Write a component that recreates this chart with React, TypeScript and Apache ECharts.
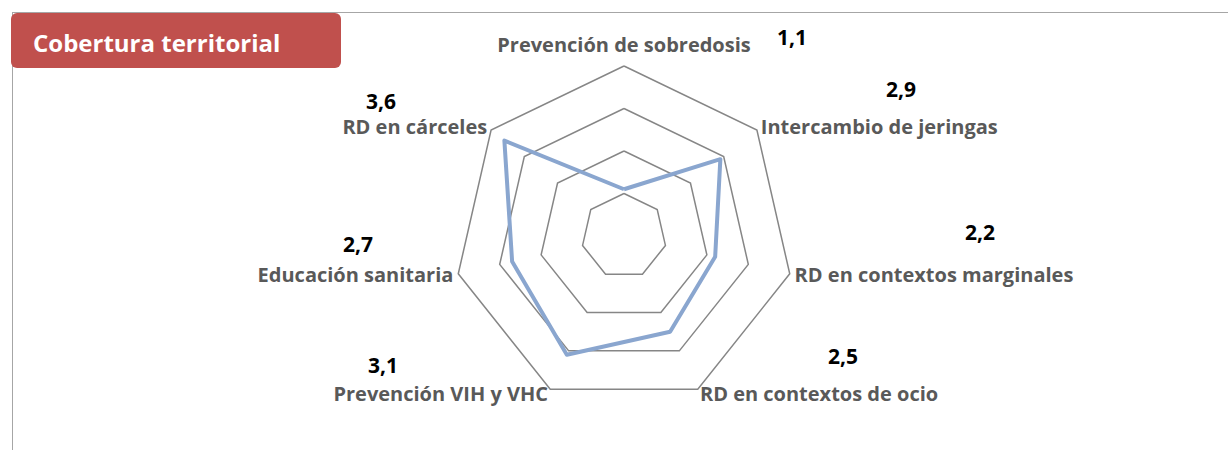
import React, { useEffect, useRef } from "react";
import * as echarts from "echarts";

// Categories in clockwise order starting from the top
const categories = [
  "Prevención de sobredosis",
  "Intercambio de jeringas",
  "RD en contextos marginales",
  "RD en contextos de ocio",
  "Prevención VIH y VHC",
  "Educación sanitaria",
  "RD en cárceles",
];
const values = [1.1, 2.9, 2.2, 2.5, 3.1, 2.7, 3.6];
const title = "Cobertura territorial";
const axisMax = 4;

// Value label anchor positions (Excel-style placement)
const labelPos: [number, number][] = [
  [792, 37],
  [901, 89],
  [980, 232],
  [843, 356],
  [383, 365],
  [358, 244],
  [381, 101],
];

const FONT = "'Open Sans', Lato, sans-serif";

export default function App() {
  const ref = useRef<HTMLDivElement>(null);
  useEffect(() => {
    if (!ref.current) return;
    const chart = echarts.init(ref.current, null, { renderer: "svg" });
    // ECharts lays indicators counter-clockwise; reverse all but the first
    const order = [0, ...categories.slice(1).map((_, i) => categories.length - 1 - i)];
    const indicators = order.map((i) => ({ name: categories[i], max: axisMax, min: 0 }));
    const seriesValues = order.map((i) => values[i]);

    chart.setOption({
      animation: false,
      backgroundColor: "#ffffff",
      radar: {
        center: [624, 236],
        radius: 170,
        startAngle: 90,
        splitNumber: 4,
        shape: "polygon",
        indicator: indicators,
        nameGap: 5,
        axisName: {
          color: "#595959",
          fontFamily: FONT,
          fontWeight: "bold",
          fontSize: 20,
          formatter: (name: string) =>
            name === categories[0] ? `{top|${name}}` : name,
          rich: {
            top: {
              color: "#595959",
              fontFamily: FONT,
              fontWeight: "bold",
              fontSize: 20,
              padding: [0, 0, 7, 0],
            },
          },
        },
        axisLine: { show: false },
        axisTick: { show: false },
        axisLabel: { show: false },
        splitArea: { show: false },
        splitLine: { lineStyle: { color: "#868686", width: 1.5 } },
      },
      series: [
        {
          type: "radar",
          symbol: "none",
          lineStyle: { color: "#8AA6CF", width: 4 },
          data: [{ value: seriesValues, name: title }],
        },
      ],
      graphic: [
        {
          type: "line",
          shape: { x1: 12, y1: 12.5, x2: 1228, y2: 12.5 },
          style: { stroke: "#A6A6A6", lineWidth: 1 },
        },
        {
          type: "line",
          shape: { x1: 12.5, y1: 12, x2: 12.5, y2: 450 },
          style: { stroke: "#A6A6A6", lineWidth: 1 },
        },
        {
          type: "rect",
          shape: { x: 11, y: 13, width: 330, height: 55, r: 6 },
          style: { fill: "#C0504D" },
        },
        {
          type: "text",
          x: 33,
          y: 42,
          style: {
            text: title,
            fill: "#ffffff",
            font: `bold 24px ${FONT}`,
            verticalAlign: "middle",
            textAlign: "left",
          },
        },
        ...values.map((v, i) => ({
          type: "text",
          x: labelPos[i][0],
          y: labelPos[i][1],
          style: {
            text: v.toFixed(1).replace(".", ","),
            fill: "#000000",
            font: `bold 21px ${FONT}`,
            textAlign: "center",
            verticalAlign: "middle",
          },
        })),
      ],
    });
    return () => chart.dispose();
  }, []);
  return (
    <div
      ref={ref}
      style={{ position: "absolute", left: 0, top: 0, width: 1228, height: 450 }}
    />
  );
}
